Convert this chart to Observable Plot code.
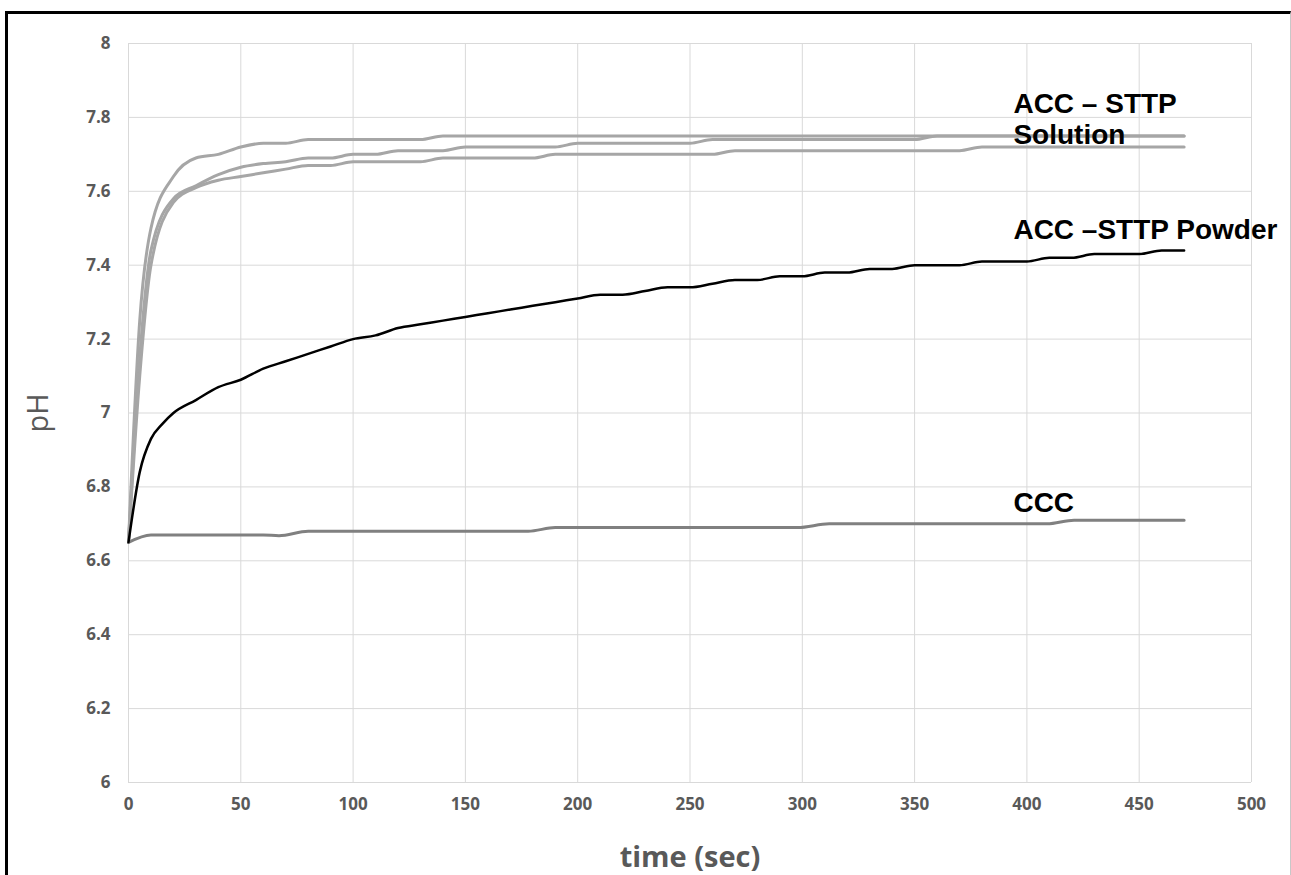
<!DOCTYPE html>
<html><head><meta charset="utf-8">
<script src="https://cdn.jsdelivr.net/npm/d3@7"></script>
<script src="https://cdn.jsdelivr.net/npm/@observablehq/plot@0.6"></script>
<style>
html,body{margin:0;padding:0;background:#fff;}
#wrap{position:relative;width:1291px;height:875px;overflow:hidden;background:#fff;}
#frame{position:absolute;left:5px;top:11px;width:1286px;height:900px;border-left:3px solid #000;border-top:3px solid #000;border-right:1px solid #c8c8c8;box-sizing:border-box;pointer-events:none;}
#chart{position:absolute;left:0;top:0;}
</style></head>
<body><div id="wrap"><div id="chart"></div><div id="frame"></div></div>
<script>
// ---- data ----
const xTicks = [0, 50, 100, 150, 200, 250, 300, 350, 400, 450, 500];
const yTicks = [6, 6.2, 6.4, 6.6, 6.8, 7, 7.2, 7.4, 7.6, 7.8, 8];

const solution1Time = [0, 5, 10, 20, 30, 40, 50, 60, 70, 80, 130, 140, 470];
const solution1pH   = [6.65, 7.25, 7.50, 7.64, 7.69, 7.70, 7.72, 7.73, 7.73, 7.74, 7.74, 7.75, 7.75];

const solution2Time = [0, 5, 10, 20, 30, 40, 50, 60, 70, 80, 90, 100, 110, 120, 140, 150, 190, 200, 250, 260, 350, 360, 470];
const solution2pH   = [6.65, 7.15, 7.44, 7.58, 7.615, 7.645, 7.665, 7.675, 7.68, 7.69, 7.69, 7.70, 7.70, 7.71, 7.71, 7.72, 7.72, 7.73, 7.73, 7.74, 7.74, 7.75, 7.75];

const solution3Time = [0, 5, 10, 20, 30, 40, 50, 60, 70, 80, 90, 100, 130, 140, 180, 190, 260, 270, 370, 380, 470];
const solution3pH   = [6.65, 7.10, 7.40, 7.57, 7.61, 7.63, 7.64, 7.65, 7.66, 7.67, 7.67, 7.68, 7.68, 7.69, 7.69, 7.70, 7.70, 7.71, 7.71, 7.72, 7.72];

const powderTime = [0, 5, 10, 15, 20, 30, 40, 50, 60, 70, 80, 90, 100, 110, 120, 130, 140, 150, 160, 170, 180, 190, 200, 210, 220, 230, 240, 250, 260, 270, 280, 290, 300, 310, 320, 330, 340, 350, 360, 370, 380, 390, 400, 410, 420, 430, 440, 450, 460, 470];
const powderpH   = [6.65, 6.84, 6.93, 6.97, 7.00, 7.035, 7.07, 7.09, 7.12, 7.14, 7.16, 7.18, 7.20, 7.21, 7.23, 7.24, 7.25, 7.26, 7.27, 7.28, 7.29, 7.30, 7.31, 7.32, 7.32, 7.33, 7.34, 7.34, 7.35, 7.36, 7.36, 7.37, 7.37, 7.38, 7.38, 7.39, 7.39, 7.40, 7.40, 7.40, 7.41, 7.41, 7.41, 7.42, 7.42, 7.43, 7.43, 7.43, 7.44, 7.44];

const cccTime = [0, 10, 60, 67, 80, 178, 190, 298, 312, 409, 421, 470];
const cccpH   = [6.65, 6.67, 6.67, 6.668, 6.68, 6.68, 6.69, 6.69, 6.70, 6.70, 6.71, 6.71];

const labelTexts = ["ACC – STTP", "Solution", "ACC –STTP Powder", "CCC"];
const labelTime  = [394, 394, 394, 394];
const labelpH    = [7.836, 7.751, 7.496, 6.757];

// ---- build rows ----
const zip = (ts, vs, run) => ts.map((t, i) => ({t, pH: vs[i], run}));
const solutionRows = [
  ...zip(solution1Time, solution1pH, "s1"),
  ...zip(solution2Time, solution2pH, "s2"),
  ...zip(solution3Time, solution3pH, "s3")
];
const powderRows = zip(powderTime, powderpH, "powder");
const cccRows = zip(cccTime, cccpH, "ccc");
const labels = labelTexts.map((text, i) => ({text, t: labelTime[i], pH: labelpH[i]}));

const tickColor = "#595959";
const chart = Plot.plot({
  width: 1291, height: 875,
  marginLeft: 128, marginRight: 40, marginTop: 43, marginBottom: 93,
  style: {fontFamily: "'Open Sans', sans-serif", background: "transparent", overflow: "visible"},
  x: {domain: [0, 500], label: null},
  y: {domain: [6, 8], label: null},
  marks: [
    Plot.gridX(xTicks, {stroke: "#d9d9d9", strokeOpacity: 1, strokeWidth: 1}),
    Plot.gridY(yTicks, {stroke: "#d9d9d9", strokeOpacity: 1, strokeWidth: 1}),
    Plot.axisX(xTicks, {tickSize: 0, tickPadding: 15, fontSize: 17, fontWeight: 700, color: tickColor, label: null}),
    Plot.axisY(yTicks, {tickSize: 0, tickPadding: 18, fontSize: 17, fontWeight: 700, color: tickColor, label: null,
      tickFormat: d => String(+d.toFixed(1))}),
    Plot.line(cccRows, {x: "t", y: "pH", stroke: "#808080", strokeWidth: 3, curve: "monotone-x"}),
    Plot.line(solutionRows, {x: "t", y: "pH", z: "run", stroke: "#a6a6a6", strokeWidth: 3, curve: "monotone-x"}),
    Plot.line(powderRows, {x: "t", y: "pH", stroke: "#000", strokeWidth: 2.5, curve: "monotone-x"}),
    Plot.text(labels, {x: "t", y: "pH", text: "text", textAnchor: "start", lineAnchor: "middle",
      fontFamily: "'Liberation Sans', Arial, sans-serif", fontWeight: 700, fontSize: 28, fill: "#000"}),
    Plot.text(["time (sec)"], {frameAnchor: "bottom", dy: 75, lineAnchor: "middle", textAnchor: "middle",
      fontFamily: "'Open Sans', sans-serif", fontWeight: 700, fontSize: 29, fill: tickColor}),
    Plot.text(["pH"], {frameAnchor: "left", dx: -90, rotate: -90, lineAnchor: "middle", textAnchor: "middle",
      fontFamily: "'Open Sans', sans-serif", fontSize: 29, fill: tickColor})
  ]
});
d3.select(chart).selectAll('g[aria-label$="tick label"]')
  .attr("font-size", 17).attr("font-weight", 700)
  .selectAll("text").attr("font-size", 17).attr("font-weight", 700);
document.getElementById("chart").appendChild(chart);
</script></body></html>
